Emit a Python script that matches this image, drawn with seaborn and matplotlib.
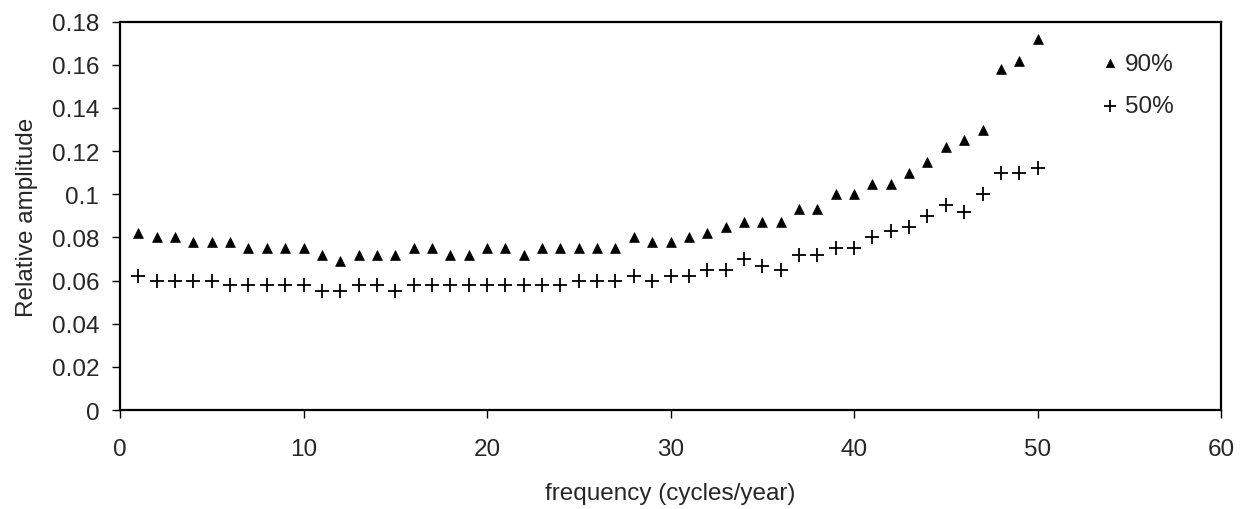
import numpy as np
import pandas as pd
import matplotlib
matplotlib.use("Agg")
import matplotlib.pyplot as plt
import seaborn as sns

sns.set_style("white")
plt.rcParams['font.family'] = ['Liberation Sans', 'DejaVu Sans']

frequency = list(range(1, 51))
p90 = [0.082, 0.080, 0.080, 0.078, 0.078, 0.078, 0.075, 0.075, 0.075, 0.075,
       0.072, 0.069, 0.072, 0.072, 0.072, 0.075, 0.075, 0.072, 0.072, 0.075,
       0.075, 0.072, 0.075, 0.075, 0.075, 0.075, 0.075, 0.080, 0.078, 0.078,
       0.080, 0.082, 0.085, 0.087, 0.087, 0.087, 0.093, 0.093, 0.100, 0.100,
       0.105, 0.105, 0.110, 0.115, 0.122, 0.125, 0.130, 0.158, 0.162, 0.172]
p50 = [0.062, 0.060, 0.060, 0.060, 0.060, 0.058, 0.058, 0.058, 0.058, 0.058,
       0.055, 0.055, 0.058, 0.058, 0.055, 0.058, 0.058, 0.058, 0.058, 0.058,
       0.058, 0.058, 0.058, 0.058, 0.060, 0.060, 0.060, 0.062, 0.060, 0.062,
       0.062, 0.065, 0.065, 0.070, 0.067, 0.065, 0.072, 0.072, 0.075, 0.075,
       0.080, 0.083, 0.085, 0.090, 0.095, 0.092, 0.100, 0.110, 0.110, 0.112]
xticks = [0, 10, 20, 30, 40, 50, 60]
yticks = [0, 0.02, 0.04, 0.06, 0.08, 0.1, 0.12, 0.14, 0.16, 0.18]
ytick_labels = ["0", "0.02", "0.04", "0.06", "0.08", "0.1", "0.12", "0.14", "0.16", "0.18"]

FS = 17.5

fig = plt.figure(figsize=(12.46, 5.10), dpi=100)
ax = fig.add_axes([0.0963, 0.194, 0.8837, 0.7615])

sns.scatterplot(x=frequency, y=p90, marker="^", s=50, color="black",
                edgecolor="black", linewidth=0.5, label="90%", ax=ax)
sns.scatterplot(x=frequency, y=p50, marker="+", s=95, color="black",
                linewidth=1.3, label="50%", ax=ax)

ax.set_xlim(0, 60)
ax.set_ylim(0, 0.18)
ax.set_xticks(xticks)
ax.set_xticklabels([str(t) for t in xticks])
ax.set_yticks(yticks)
ax.set_yticklabels(ytick_labels)
ax.tick_params(axis='both', which='major', labelsize=FS, length=6, width=1,
               direction='out', color='black', left=True, bottom=True, pad=9)
ax.tick_params(axis='x', pad=14)
for s in ax.spines.values():
    s.set_visible(True)
    s.set_color("black")
    s.set_linewidth(1.6)
ax.set_xlabel("frequency (cycles/year)", fontsize=FS, labelpad=16)
ax.set_ylabel("Relative amplitude", fontsize=FS, labelpad=10)

leg = ax.legend(loc="upper left", bbox_to_anchor=(0.877, 0.945), frameon=False,
                fontsize=FS, handletextpad=0.0, labelspacing=0.85,
                markerscale=0.85, borderaxespad=0, handlelength=1.2)

fig.savefig("out.png", dpi=100)
